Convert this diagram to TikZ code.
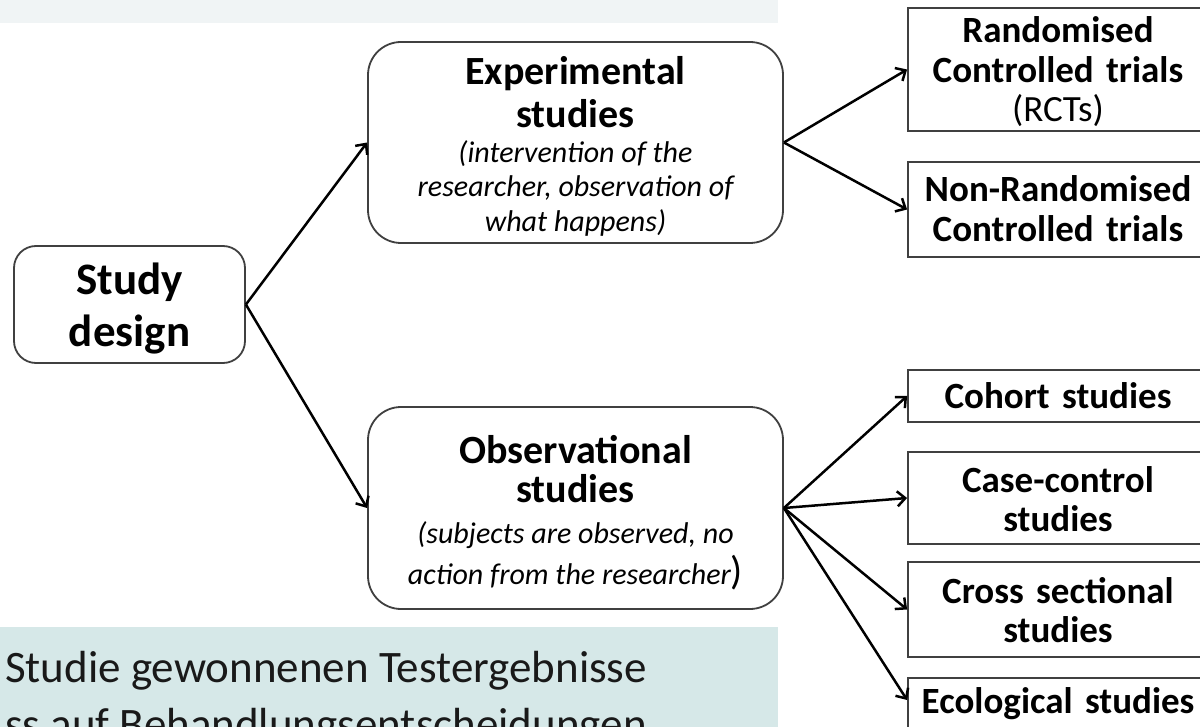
\documentclass[tikz,border=0pt]{standalone}
\usepackage{fontspec}
\setmainfont{Carlito}
\usetikzlibrary{arrows.meta}
\definecolor{topband}{HTML}{F0F4F5}
\definecolor{botband}{HTML}{D6E8E8}
\definecolor{boxline}{HTML}{404040}
\newcommand{\fsz}[2]{\fontsize{#1}{#2}\selectfont}
\newcommand{\rig}{\spaceskip=\fontdimen2\font\relax}
\newcommand{\itsp}{\itshape\rig}
\begin{document}
\begin{tikzpicture}[x=1pt,y=-1pt,
  every node/.style={execute at begin node=\setlength{\parindent}{0pt}},
  roundbox/.style={draw=boxline, line width=1.8pt, rounded corners=#1,
    align=center, inner xsep=0pt, inner ysep=0pt, fill=white},
  rectbox/.style={draw=boxline, line width=1.8pt, align=center,
    inner xsep=0pt, inner ysep=0pt, text width=300pt, fill=white,
    font=\fsz{37}{39.5}\bfseries\rig},
  conn/.style={draw=black, line width=2.5pt, -{Straight Barb[length=8pt,width=15pt]}},
  bandtext/.style={anchor=base west, inner sep=0pt, font=\fsz{45}{55}, text=black!90}
]
\path[use as bounding box] (0,0) rectangle (1200,727);
\clip (0,0) rectangle (1200,727);

% background bands
\fill[topband] (0,0) rectangle (778,23);
\fill[botband] (0,627) rectangle (778,727);
\node[bandtext] (bt1) at (5,682) {Studie gewonnenen Testergebnisse};
\node[bandtext] (bt2) at (5,739) {ss auf Behandlungsentscheidungen};

% main boxes
\node[roundbox=22pt, text width=231pt, minimum height=117pt,
      text height=0pt, text depth=19pt,
      font=\fsz{45}{52}\bfseries] (sd) at (129.5,304.5) {Study\\design};

\node[roundbox=33pt, text width=415pt, minimum height=201pt,
      text height=0pt, text depth=115pt] (exp) at (575.5,142.5)
  {{\fsz{40}{43}\bfseries Experimental\\studies\par}%
   {\fsz{30}{34.5}\itsp (intervention of the\\researcher, observation of\\what happens)\par}};

\node[roundbox=33pt, text width=415pt, minimum height=202pt,
      text height=0pt, text depth=90pt] (obs) at (575.5,508)
  {{\fsz{40}{39}\bfseries Observational\\studies\par}%
   {\fsz{30}{41.5}\itsp (subjects are observed, no\\action from the researcher{\upshape\fontsize{40}{41.5}\selectfont)}\par}};

% right column
\node[rectbox, minimum height=123pt, text height=0pt, text depth=53pt] (rand) at (1058,69.5)
  {Randomised\\Controlled trials\\{\mdseries (RCTs)}};
\node[rectbox, minimum height=95pt, text height=0pt, text depth=15pt] (nonrand) at (1058,209.5)
  {Non-Randomised\\Controlled trials};
\node[rectbox, minimum height=52pt, text height=26pt, text depth=0pt] (coh) at (1058,396)
  {Cohort studies};
\node[rectbox, minimum height=92pt, text height=0pt, text depth=12pt] (cc) at (1058,498)
  {Case-control\\studies};
\node[rectbox, minimum height=95pt, text height=0pt, text depth=13pt] (cs) at (1058,609.5)
  {Cross sectional\\studies};
\node[rectbox, minimum height=55pt, text height=17pt, text depth=0pt, anchor=north] (eco)
  at (1058,677) {Ecological studies};
\coordinate (ecoin) at ([yshift=-23pt]eco.north west);

% connectors
\draw[conn] (sd.east) -- (exp.west);
\draw[conn] (sd.east) -- (obs.west);
\draw[conn] (exp.east) -- (rand.west);
\draw[conn] (exp.east) -- (nonrand.west);
\draw[conn] (obs.east) -- (coh.west);
\draw[conn] (obs.east) -- (cc.west);
\draw[conn] (obs.east) -- (cs.west);
\draw[conn] (obs.east) -- (ecoin);
\end{tikzpicture}
\end{document}
